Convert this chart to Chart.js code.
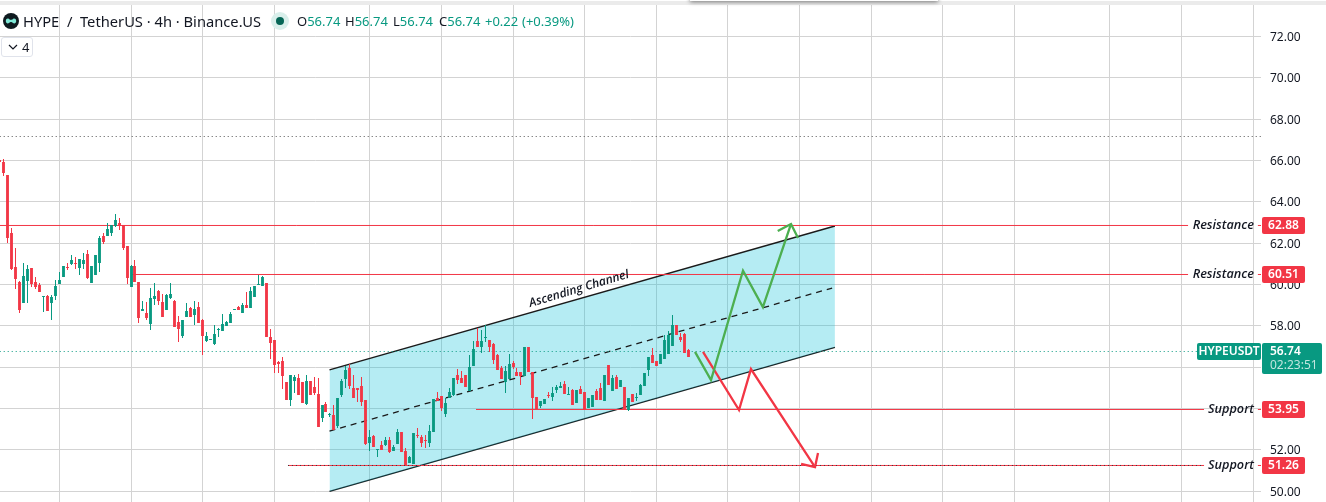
<!DOCTYPE html>
<html>
<head>
<meta charset="utf-8">
<title>HYPE / TetherUS</title>
<script src="https://cdn.jsdelivr.net/npm/chart.js@4/dist/chart.umd.min.js"></script>
<style>
    html, body { margin: 0; padding: 0; background: #fff; overflow: hidden; }
    #wrap { position: relative; width: 1326px; height: 502px; font-family: "Noto Sans", sans-serif; color: #131722; }
    #chart { position: absolute; left: 0; top: 0; }
    #top-white { position: absolute; left: 0; top: 0; width: 1326px; height: 1px; background: #fff; }
    #top-strip { position: absolute; left: 0; top: 1px; width: 1326px; height: 4px; background: #ebebeb; }
    #popup { position: absolute; left: 690px; top: -6px; width: 248px; height: 7px; background: #fff; box-shadow: 0 1px 4px rgba(0,0,0,.5); }
    .t { position: absolute; white-space: nowrap; line-height: 18px; top: 12px; font-size: 13px; }
    .g { color: #089981; }
    #title { left: 23px; font-size: 14.7px; }
    #logo { position: absolute; left: 3px; top: 13px; }
    #dot { position: absolute; left: 271px; top: 12px; width: 18px; height: 18px; border-radius: 50%; background: #d9efeb; }
    #dot i { position: absolute; left: 5px; top: 5px; width: 8px; height: 8px; border-radius: 50%; background: #056656; }
    #fold { position: absolute; left: 1px; top: 37px; width: 30px; height: 18px; background: #fff; border: 1px solid #e0e3eb; border-radius: 3px; font-size: 13px; line-height: 18px; }
    #fold span { position: absolute; left: 20px; top: 0; }
    #fold svg { position: absolute; left: 6px; top: 6px; }
</style>
</head>
<body>
<div id="wrap">
    <canvas id="chart" width="1326" height="502"></canvas>
    <div id="top-white"></div>
    <div id="top-strip"></div>
    <div id="popup"></div>
    <svg id="logo" width="16" height="16" viewBox="0 0 16 16">
        <circle cx="8" cy="8" r="8" fill="#0f1a1f"/>
        <path d="M2.8 8c0-2.2 1.9-3 3.2-2 .9.7 1.4.9 2 .9s1.100-.2 2-.9c1.300-1 3.200-.2 3.200 2s-1.900 3-3.200 2c-.9-.7-1.400-.9-2-.9s-1.100.2-2 .9c-1.300 1-3.200.2-3.200-2z" fill="#7fe8d6"/>
    </svg>
    <div class="t" id="title">HYPE&nbsp; /&nbsp; TetherUS · 4h · Binance.US</div>
    <div id="dot"><i></i></div>
    <div class="t" style="left:297px">O<span class="g">56.74</span></div>
    <div class="t" style="left:345px">H<span class="g">56.74</span></div>
    <div class="t" style="left:393px">L<span class="g">56.74</span></div>
    <div class="t" style="left:439px">C<span class="g">56.74</span></div>
    <div class="t g" style="left:485px">+0.22</div>
    <div class="t g" style="left:522px">(+0.39%)</div>
    <div id="fold">
        <svg width="10" height="6" viewBox="0 0 10 6"><path d="M1 1l4 4 4-4" fill="none" stroke="#131722" stroke-width="1.200"/></svg>
        <span>4</span>
    </div>
</div>

<script>
// candles, oldest first
const opens = [66.03,65.93,65.30,62.49,60.85,60.12,59.11,60.17,60.80,60.12,59.98,59.40,59.45,59.11,59.45,60.03,60.37,60.85,60.99,61.04,
    60.80,60.99,61.48,60.07,60.46,61.04,62.35,62.35,62.49,62.83,62.98,62.87,61.86,59.88,60.90,60.12,58.72,58.62,58.09,59.30,
    59.69,59.15,58.77,59.35,59.20,58.19,57.51,58.43,58.87,58.53,58.91,58.29,57.27,57.32,57.12,57.82,57.75,57.99,58.14,58.77,
    58.91,58.62,59.01,58.87,59.40,59.98,59.93,60.07,57.46,57.32,56.25,56.30,55.29,54.41,55.33,55.48,55.29,54.22,55.33,55.04,
    54.70,53.54,54.22,53.69,53.69,53.16,54.66,55.43,55.96,54.99,54.99,55.09,54.41,52.33,52.67,52.00,52.24,52.24,52.48,51.95,
    52.28,52.87,51.95,51.37,51.32,52.72,52.62,52.48,52.33,52.87,54.51,54.61,53.74,54.51,54.66,55.62,55.48,55.62,54.85,56.06,
    57.27,56.98,57.41,57.32,57.12,56.59,55.96,55.28,55.43,56.20,55.77,55.77,55.58,56.98,55.77,54.56,54.12,54.22,54.66,54.56,
    54.90,54.99,55.19,54.66,54.90,54.27,54.95,54.80,54.03,54.07,54.85,54.99,54.37,56.11,54.85,55.53,55.04,55.04,53.93,54.70,
    54.51,54.66,55.09,55.87,56.59,56.30,56.16,56.40,56.64,57.03,58.04,57.46,57.61,56.83];
const highs = [66.06,66.07,65.30,62.74,61.77,60.17,61.04,60.95,60.80,60.37,60.07,59.45,59.49,59.49,60.22,60.61,60.90,61.04,61.43,61.33,
    61.24,61.53,61.67,60.90,61.43,62.35,62.49,62.98,62.88,63.41,63.22,62.87,61.86,60.95,61.19,60.12,59.20,59.15,59.83,60.07,
    59.74,59.54,59.54,60.07,59.25,58.48,58.29,59.11,58.91,59.20,59.16,58.33,57.70,57.37,58.04,57.90,58.57,58.24,58.67,58.82,
    58.96,59.11,59.64,59.88,59.93,60.46,60.41,60.07,57.85,57.32,56.30,56.50,55.29,55.62,55.62,55.67,55.29,55.62,55.33,55.53,
    55.48,54.17,54.32,53.79,54.17,54.51,55.43,56.06,56.16,55.62,54.99,55.53,54.41,52.96,52.72,52.04,52.43,52.62,52.62,52.24,
    53.01,52.87,52.09,51.70,52.82,53.06,52.72,52.72,53.20,54.46,54.80,54.61,54.51,54.99,55.48,55.91,55.82,55.62,56.59,57.27,
    57.90,57.80,58.04,57.32,57.17,56.64,56.06,56.06,56.64,56.30,55.96,55.77,56.98,56.98,55.77,54.56,54.37,54.46,54.80,55.04,
    55.14,55.28,55.33,55.04,54.95,54.90,55.09,54.80,54.51,54.66,54.95,55.24,55.62,56.11,55.62,55.62,55.38,55.04,54.51,54.70,
    54.75,55.19,55.72,56.49,56.93,56.30,56.64,57.56,57.75,58.53,58.04,57.66,57.66,56.88];
const lows = [65.93,65.25,62.00,60.70,59.78,58.62,59.11,59.11,59.88,59.78,59.64,58.67,58.72,58.28,59.25,60.03,60.37,60.70,60.95,60.75,
    60.46,60.75,60.27,60.07,60.46,60.61,61.96,62.35,62.35,62.78,62.64,61.67,60.03,59.88,60.12,58.14,58.72,58.28,57.80,59.01,
    59.01,58.43,58.77,59.30,57.95,57.22,57.41,58.43,58.43,58.04,58.14,56.59,57.22,57.32,57.08,57.46,57.75,57.99,58.14,58.77,
    58.77,58.62,58.87,58.87,59.40,59.98,59.93,57.46,56.40,55.72,55.72,54.95,54.41,54.12,54.75,54.66,54.27,54.17,54.66,54.66,
    53.11,53.35,53.83,53.59,52.96,53.06,54.56,54.99,54.95,54.51,54.32,54.12,52.24,51.95,52.14,51.66,52.00,52.19,51.85,51.95,
    52.28,51.90,51.27,51.37,51.32,52.57,52.14,52.09,52.14,52.87,54.37,53.88,53.59,54.51,54.61,55.19,55.24,55.04,54.85,56.06,
    56.98,56.69,57.22,56.74,56.16,55.87,55.43,54.75,55.43,55.91,55.58,55.14,55.58,55.77,53.51,53.98,54.03,54.22,54.51,54.37,
    54.75,54.99,54.70,54.66,54.17,54.27,54.70,53.93,54.03,54.07,54.41,54.41,54.37,55.14,54.85,54.95,55.04,53.98,53.88,54.32,
    54.37,54.66,55.09,55.58,56.20,56.06,56.16,56.40,56.64,57.03,57.56,57.22,56.69,56.49];
const closes = [65.93,65.41,62.27,60.75,60.27,58.77,60.41,60.75,60.03,59.88,59.64,59.45,58.72,59.40,59.93,60.22,60.90,60.80,61.19,60.99,
    61.24,61.19,60.32,60.90,61.43,62.25,62.06,62.69,62.88,63.12,62.83,61.77,60.32,60.90,60.12,58.38,58.82,58.38,59.35,59.45,
    59.20,58.43,59.49,59.54,57.95,57.85,58.29,58.72,58.43,58.82,58.14,57.51,57.51,57.37,57.61,57.87,58.09,58.19,58.57,58.82,
    58.77,59.01,58.87,59.69,59.93,60.03,60.36,57.46,57.17,56.11,56.16,55.57,54.41,55.62,55.53,54.66,54.27,55.33,54.66,54.75,
    53.11,54.17,53.83,53.74,52.96,54.51,55.33,55.87,55.09,54.51,54.90,54.32,52.28,52.62,52.14,52.04,52.00,52.48,51.90,52.14,
    52.87,51.90,51.27,51.66,52.82,52.67,52.33,52.43,52.91,54.46,54.37,54.03,54.27,54.80,55.48,55.38,55.24,55.04,56.01,56.88,
    56.98,57.27,57.46,56.98,56.35,55.87,55.43,55.82,56.16,56.01,55.58,55.58,56.98,55.77,54.51,53.98,54.37,54.46,54.61,54.75,
    55.04,55.09,54.70,54.70,54.17,54.90,54.70,53.93,54.51,54.66,54.41,54.41,55.62,55.14,55.48,54.95,55.38,53.98,54.51,54.32,
    54.56,55.14,55.72,56.49,56.20,56.06,56.64,57.32,57.56,58.04,57.56,57.32,56.69,56.49];

const priceTicks = [50,52,54,56,58,60,62,64,66,68,70,72];
const timeGrid = [15,33,51,69,93,111,129,147,165,183,201,219,237,255,279,297,315];

// drawings, [candle position, price]
const channelX = [82.88, 209.9];
const channelUpper = [55.87, 62.83];
const channelLower = [49.99, 56.96];
const channelMidX = [82.88, 209.2];
const channelMid = [52.91, 59.83];

const greenPathX = [174.74, 178.76, 186.8, 191.8, 198.87];
const greenPath = [56.74, 55.38, 60.67, 58.91, 62.93];
const greenHeadX = [195.53, 198.87, 200.63];
const greenHead = [62.59, 62.93, 62.25];
const redPathX = [176.75, 185.8, 188.8, 204.9];
const redPath = [56.74, 53.93, 55.91, 51.17];
const redHeadX = [201.4, 204.9, 205.65];
const redHead = [51.32, 51.17, 51.85];

// line heights, the tags carry the printed prices
const levelPrices = [62.857, 60.486, 53.955, 51.246];
const levelTags = ["62.88", "60.51", "53.95", "51.26"];
const levelNames = ["Resistance", "Resistance", "Support", "Support"];
const levelStart = [0, 33.25, 119.7, 72.45];
const levelEnd = [298.65, 298.65, 302.66, 302.66];
const stubX = [316.2, 317];

const lastPrice = 56.761;
const lastLabel = "56.74";
const oldLevel = 67.162;

const UP = '#089981', DOWN = '#f23645', GRID = '#d3d3d3';

const xy = (xs, ys) => xs.map((x, i) => ({x: x, y: ys[i]}));

function lineSet(data, color, width, order, dash) {
    return { type: 'line', data: data, borderColor: color, borderWidth: width, pointRadius: 0, borderDash: dash || [], tension: 0, order: order, spanGaps: false, fill: false };
}

const wicks = highs.map((h, i) => ({x: i, y: [lows[i], h]}));
const bodies = opens.map((o, i) => ({x: i, y: [Math.min(o, closes[i]), Math.max(o, closes[i])]}));
const candleColors = opens.map((o, i) => closes[i] >= o ? UP : DOWN);

// keep bars on whole pixels, like the original
const crispBars = {
    id: 'crispBars',
    beforeDatasetDraw(chart, args) {
        if (args.meta.type !== 'bar') return;
        args.meta.data.forEach(el => {
            el.x = Math.floor(el.x) + 0.5;
            el.y = Math.round(el.y);
            el.base = Math.round(el.base);
            if (el.base === el.y) el.base = el.y + 1;
        });
    }
};

function tag(ctx, x, y, w, h, color) {
    ctx.fillStyle = color;
    ctx.beginPath();
    ctx.roundRect(x, y, w, h, 2);
    ctx.fill();
}

const labels = {
    id: 'labels',
    afterDraw(chart) {
        const ctx = chart.ctx, sy = chart.scales.y;
        ctx.save();
        ctx.textBaseline = 'middle';

        levelPrices.forEach((p, i) => {
            const y = Math.floor(sy.getPixelForValue(p));
            ctx.textAlign = 'right';
            ctx.fillStyle = '#131722';
            ctx.font = 'italic 600 12.7px "Open Sans"';
            ctx.fillText(levelNames[i], 1254, y);
            tag(ctx, 1262, y - 8, 43, 17, DOWN);
            ctx.textAlign = 'center';
            ctx.fillStyle = '#fff';
            ctx.font = '600 12px "Noto Sans"';
            ctx.fillText(levelTags[i], 1283.5, y + 1);
        });

        // last price tag
        const ly = Math.floor(sy.getPixelForValue(lastPrice));
        tag(ctx, 1197, ly - 8, 64, 17, UP);
        tag(ctx, 1262, ly - 8, 60, 31, UP);
        ctx.fillStyle = '#fff';
        ctx.textAlign = 'center';
        ctx.font = '600 12px "Noto Sans"';
        ctx.fillText("HYPEUSDT", 1229, ly + 1);
        ctx.textAlign = 'left';
        ctx.fillText(lastLabel, 1270, ly + 1);
        ctx.fillStyle = 'rgba(255,255,255,.75)';
        ctx.font = '12px "Noto Sans"';
        ctx.fillText("02:23:51", 1270, ly + 15);

        // channel caption
        ctx.translate(579, 289);
        ctx.rotate(-16.5 * Math.PI / 180);
        ctx.textAlign = 'center';
        ctx.fillStyle = '#131722';
        ctx.font = 'italic 600 12px "Open Sans"';
        ctx.fillText("Ascending Channel", 0, 0);
        ctx.restore();
    }
};

const levelSets = [];
levelPrices.forEach((p, i) => {
    const pts = [{x: levelStart[i], y: p}, {x: levelEnd[i], y: p}, {x: levelEnd[i] + 1, y: null}, {x: stubX[0], y: p}, {x: stubX[1], y: p}];
    levelSets.push(lineSet(pts, DOWN, 1, 6));
});

new Chart(document.getElementById('chart'), {
    type: 'bar',
    data: {
        datasets: [
            // arrows on top
            lineSet(xy(greenPathX, greenPath), '#4caf50', 2.3, 1),
            lineSet(xy(greenHeadX, greenHead), '#4caf50', 2.3, 1),
            lineSet(xy(redPathX, redPath), DOWN, 2.3, 1),
            lineSet(xy(redHeadX, redHead), DOWN, 2.3, 1),
            // grouped:false ignores barThickness, maxBarThickness still applies
            { type: 'bar', data: bodies, backgroundColor: candleColors, maxBarThickness: 3, grouped: false, inflateAmount: 0, borderWidth: 0, order: 3 },
            { type: 'bar', data: wicks, backgroundColor: candleColors, maxBarThickness: 1, grouped: false, inflateAmount: 0, borderWidth: 0, order: 4 },
            ...levelSets,
            lineSet(xy([72.45, 302.66], [levelPrices[3], levelPrices[3]]), '#3a3a3a', 1, 5, [1, 3]),
            lineSet(xy([0, 300.9], [lastPrice, lastPrice]), UP, 1, 7, [1, 3]),
            lineSet(xy([0, 317], [oldLevel, oldLevel]), '#555', 1, 7, [1, 3]),
            lineSet(xy(channelMidX, channelMid), '#1a1a1a', 1.3, 7, [6, 5]),
            Object.assign(lineSet(xy(channelX, channelUpper), '#1a1a1a', 1.4, 8), { fill: '+1', backgroundColor: 'rgba(0,188,212,0.29)' }),
            lineSet(xy(channelX, channelLower), '#1a1a1a', 1.4, 9)
        ]
    },
    options: {
        responsive: false,
        animation: false,
        events: [],
        layout: { padding: 0 },
        plugins: { legend: { display: false }, tooltip: { enabled: false } },
        scales: {
            x: {
                type: 'linear',
                offset: false,
                min: 0.073,
                max: 316.98,
                ticks: { display: false, autoSkip: false },
                border: { display: false },
                grid: { color: GRID, drawTicks: false, offset: false },
                afterBuildTicks: axis => { axis.ticks = timeGrid.map(v => ({value: v})); },
                afterFit: axis => { axis.height = 0; axis.paddingLeft = 0; axis.paddingRight = 0; }
            },
            y: {
                position: 'right',
                min: 49.479,
                max: 73.766,
                ticks: {
                    color: '#131722',
                    padding: 9,
                    labelOffset: 1,
                    autoSkip: false,
                    font: { family: '"Noto Sans"', size: 12 },
                    callback: v => v.toFixed(2)
                },
                border: { display: false },
                grid: { color: GRID, drawTicks: false },
                afterBuildTicks: axis => { axis.ticks = priceTicks.map(v => ({value: v})); },
                afterFit: axis => { axis.width = 65; axis.paddingTop = 0; axis.paddingBottom = 0; }
            }
        }
    },
    plugins: [crispBars, labels]
});
</script>
</body>
</html>
